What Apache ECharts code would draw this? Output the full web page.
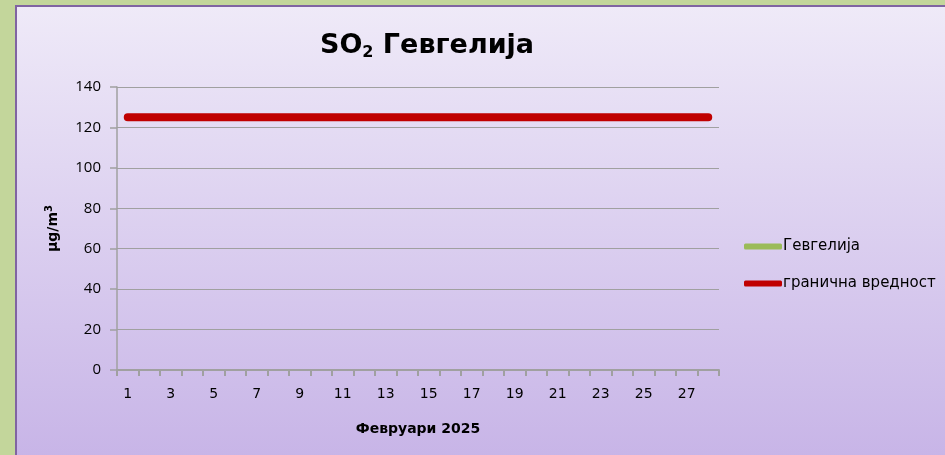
<!DOCTYPE html>
<html>
<head>
<meta charset="utf-8">
<script src="https://cdn.jsdelivr.net/npm/echarts@6/dist/echarts.min.js"></script>
<style>
  html, body { margin: 0; padding: 0; background: #c3d69b; }
  #chart { width: 945px; height: 455px; }
</style>
</head>
<body>
<div id="chart"></div>
<script>
// Days of February 2025
const days = ['1','2','3','4','5','6','7','8','9','10','11','12','13','14','15','16','17','18','19','20','21','22','23','24','25','26','27','28'];
// Measured SO2 in Gevgelija (no data reported)
const gevgelija = [null,null,null,null,null,null,null,null,null,null,null,null,null,null,null,null,null,null,null,null,null,null,null,null,null,null,null,null];
// Limit value
const limitValue = [125,125,125,125,125,125,125,125,125,125,125,125,125,125,125,125,125,125,125,125,125,125,125,125,125,125,125,125];
const yTicks = { min: 0, max: 140, interval: 20 };

const comic = '"Comic Sans MS", "DejaVu Sans", sans-serif';
const axisGray = '#a0a0a0';

const chart = echarts.init(document.getElementById('chart'));
chart.setOption({
  animation: false,
  graphic: [{
    type: 'rect',
    silent: true,
    z: -10,
    shape: { x: 16, y: 6, width: 960, height: 480 },
    style: {
      fill: new echarts.graphic.LinearGradient(0, 0, 0, 1, [
        { offset: 0, color: '#efeaf8' },
        { offset: 1, color: '#c5b1e6' }
      ]),
      stroke: '#8064a2',
      lineWidth: 2
    }
  }],
  title: {
    text: '{a|SO}{s|2}{a| Гевгелија}',
    left: 422,
    textAlign: 'center',
    top: 25,
    textStyle: {
      rich: {
        a: { fontFamily: comic, fontSize: 27, fontWeight: 'bold', color: '#000' },
        s: { fontFamily: comic, fontSize: 16, fontWeight: 'bold', color: '#000', verticalAlign: 'bottom', padding: [15, 0, 0, 0] }
      }
    }
  },
  legend: {
    orient: 'vertical',
    left: 739,
    top: 234,
    itemWidth: 38,
    itemHeight: 6,
    itemGap: 22,
    icon: 'roundRect',
    textStyle: { fontFamily: comic, fontSize: 15, color: '#000', padding: [0, 0, 0, -4] },
    data: ['Гевгелија', 'гранична вредност']
  },
  grid: { left: 117, top: 87, right: 226, bottom: 85, containLabel: false },
  xAxis: {
    type: 'category',
    data: days,
    boundaryGap: true,
    name: 'Февруари 2025',
    nameLocation: 'middle',
    nameGap: 52,
    nameTextStyle: { fontFamily: comic, fontSize: 14, fontWeight: 'bold', color: '#000' },
    axisLine: { lineStyle: { color: axisGray, width: 2 } },
    axisTick: { show: true, interval: 0, length: 6, lineStyle: { color: axisGray, width: 2 } },
    axisLabel: { interval: 1, fontFamily: comic, fontSize: 14, color: '#000', margin: 17 },
    splitLine: { show: false }
  },
  yAxis: {
    type: 'value',
    min: yTicks.min,
    max: yTicks.max,
    interval: yTicks.interval,
    name: '{a|μg/m}{s|3}',
    nameLocation: 'middle',
    nameRotate: 90,
    nameGap: 55,
    nameTextStyle: {
      rich: {
        a: { fontFamily: comic, fontSize: 14, fontWeight: 'bold', color: '#000' },
        s: { fontFamily: comic, fontSize: 10, fontWeight: 'bold', color: '#000', verticalAlign: 'top', padding: [0, 0, 8, 0] }
      }
    },
    axisLine: { show: true, lineStyle: { color: axisGray, width: 1.5 } },
    axisTick: { show: true, length: 7, lineStyle: { color: axisGray, width: 1.5 } },
    axisLabel: { fontFamily: '"Open Sans", "Liberation Sans", sans-serif', fontSize: 15, color: '#000', margin: 16 },
    splitLine: { lineStyle: { color: axisGray, width: 1.2 } }
  },
  series: [
    {
      name: 'Гевгелија',
      type: 'line',
      data: gevgelija,
      showSymbol: false,
      itemStyle: { color: '#9bbb59' },
      lineStyle: { color: '#9bbb59', width: 7, cap: 'round' }
    },
    {
      name: 'гранична вредност',
      type: 'line',
      data: limitValue,
      showSymbol: false,
      itemStyle: { color: '#c00000' },
      lineStyle: { color: '#c00000', width: 8, cap: 'round' }
    }
  ]
});
</script>
</body>
</html>
